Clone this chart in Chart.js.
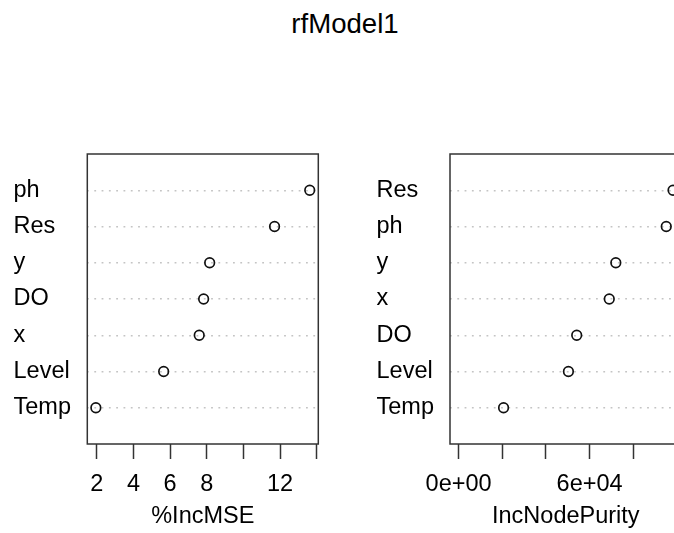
<!DOCTYPE html>
<html>
<head>
<meta charset="utf-8">
<script src="https://cdn.jsdelivr.net/npm/chart.js@4.4.0/dist/chart.umd.min.js"></script>
<style>
  html, body { margin: 0; padding: 0; background: #fff; overflow: hidden; }
  #wrap { position: relative; width: 674px; height: 533px; overflow: hidden; }
  #title { position: absolute; left: 245px; top: 9.6px; width: 200px; text-align: center;
           font: 27.6px/27.6px "Liberation Sans", Arial, sans-serif; color: #000; }
  #leftChart { position: absolute; left: 0; top: 0; }
  #rightChart { position: absolute; left: 337px; top: 0; }
</style>
</head>
<body>
<div id="wrap">
  <div id="title">rfModel1</div>
  <canvas id="leftChart" width="337" height="533"></canvas>
  <canvas id="rightChart" width="360" height="533"></canvas>
</div>
<script>
// variables are listed bottom to top, like the dotchart rows
const mseNames = ['Temp', 'Level', 'x', 'DO', 'y', 'Res', 'ph'];
const mseValues = [1.95, 5.65, 7.59, 7.83, 8.16, 11.70, 13.62];
const mseTicks = [2, 4, 6, 8, 10, 12, 14];
const mseTickLabels = ['2', '4', '6', '8', '', '12', ''];

const purityNames = ['Temp', 'Level', 'DO', 'x', 'y', 'ph', 'Res'];
const purityValues = [20600, 50300, 54100, 69000, 72000, 95100, 98200];
const purityTicks = [0, 20000, 40000, 60000, 80000, 100000];
const purityTickLabels = ['0e+00', '', '', '6e+04', '', ''];

const FONT = '"Liberation Sans", Arial, sans-serif';
const INK = '#333';

// draws the box round the plot region, R style
const boxPlugin = {
    id: 'box',
    afterDraw(chart) {
        const a = chart.chartArea;
        const ctx = chart.ctx;
        ctx.save();
        ctx.strokeStyle = INK;
        ctx.lineWidth = 1.5;
        ctx.strokeRect(a.left, a.top, a.right - a.left, a.bottom - a.top);
        ctx.restore();
    }
};

function makePanel(id, names, values, xmin, xmax, ticks, tickLabels, xTitle, opt) {
    // R pads the range by 4% each side
    const pad = (xmax - xmin) * 0.04;
    const rows = [];
    for (let i = 0; i <= names.length + 1; i++) rows.push(i);

    return new Chart(document.getElementById(id), {
        type: 'scatter',
        data: {
            datasets: [{
                data: values.map((v, i) => ({ x: v, y: i + 1 })),
                pointStyle: 'circle',
                pointRadius: 4.8,
                pointBorderWidth: 1.7,
                pointBorderColor: '#111',
                pointBackgroundColor: 'rgba(0,0,0,0)',
                showLine: false
            }]
        },
        options: {
            responsive: false,
            animation: false,
            layout: { padding: { left: opt.left, right: opt.right, top: 154, bottom: 0 } },
            plugins: { legend: { display: false }, tooltip: { enabled: false } },
            scales: {
                x: {
                    type: 'linear',
                    min: xmin - pad,
                    max: xmax + pad,
                    afterBuildTicks: axis => { axis.ticks = ticks.map(v => ({ value: v })); },
                    afterFit: axis => { axis.height = 89; },
                    grid: { drawOnChartArea: false, drawTicks: true, tickLength: 15,
                            tickColor: INK, tickWidth: 1.5 },
                    border: { display: false },
                    ticks: {
                        autoSkip: false, maxRotation: 0, padding: 11, color: '#000',
                        font: { family: FONT, size: 23.5 },
                        callback: (v, i) => tickLabels[i]
                    },
                    title: { display: true, text: xTitle, color: '#000',
                             font: { family: FONT, size: 23.5 }, padding: { top: 0, bottom: 2 } }
                },
                y: {
                    type: 'linear',
                    min: 0,
                    max: names.length + 1,
                    afterBuildTicks: axis => { axis.ticks = rows.map(v => ({ value: v })); },
                    afterFit: axis => { axis.width = opt.yWidth; },
                    grid: {
                        drawTicks: false,
                        lineWidth: 1.5,
                        color: c => (c.tick && c.tick.value >= 1 && c.tick.value <= names.length) ? '#c4c4c4' : 'rgba(0,0,0,0)'
                    },
                    border: { display: false, dash: [1.8, 5.5] },
                    ticks: {
                        crossAlign: 'far', color: '#000',
                        font: { family: FONT, size: 23.5 },
                        callback: v => names[v - 1] || ''
                    }
                }
            }
        },
        plugins: [boxPlugin]
    });
}

makePanel('leftChart', mseNames, mseValues,
    Math.min(...mseValues), Math.max(...mseValues),
    mseTicks, mseTickLabels, '%IncMSE',
    { left: 13.5, right: 18.7, yWidth: 73.8 });

// IncNodePurity starts its axis at zero
makePanel('rightChart', purityNames, purityValues,
    0, Math.max(...purityValues),
    purityTicks, purityTickLabels, 'IncNodePurity',
    { left: 39.5, right: 15.4, yWidth: 73.5 });
</script>
</body>
</html>
